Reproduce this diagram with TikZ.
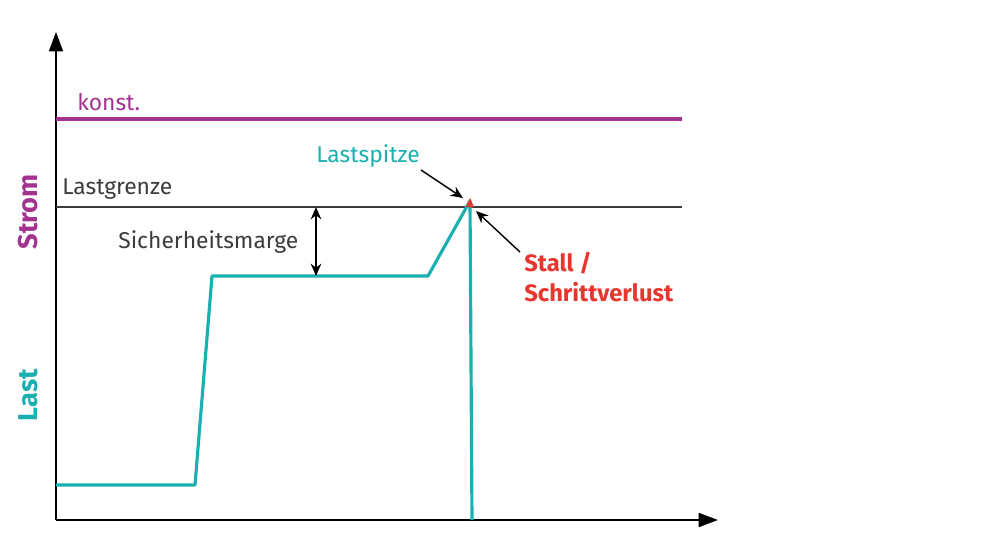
\documentclass[tikz,border=0pt]{standalone}
\usepackage{fontspec}
\setmainfont{Fira Sans}
\usetikzlibrary{arrows.meta}
\definecolor{stromcol}{HTML}{A2338F}
\definecolor{lastcol}{HTML}{1AAFB0}
\definecolor{stallcol}{HTML}{E8352E}
\definecolor{textgray}{HTML}{3C3C3C}
\tikzset{
  lbl/.style={font=\fontsize{13}{15}\selectfont, text=textgray, inner sep=0pt},
  boldlbl/.style={font=\fontsize{13.5}{16}\selectfont\bfseries, inner sep=0pt},
  axislbl/.style={font=\fontsize{15.5}{18}\selectfont\bfseries, inner sep=0pt, rotate=90},
  axis/.style={line width=0.9pt, -{Triangle[length=11pt,width=8pt]}},
  pointer/.style={line width=0.8pt, -{Stealth[length=7pt,width=6pt]}}
}
\begin{document}
\begin{tikzpicture}[x=0.02cm, y=-0.02cm]
      \useasboundingbox (0,0) rectangle (992,549);
      % axes
      \coordinate (origin) at (56,520);
      \coordinate (ytop) at (56,32);
      \coordinate (xend) at (718,520);
      \draw[axis] (origin) -- (ytop);
      \draw[axis] (origin) -- (xend);
      % limits
      \draw[stromcol, line width=2pt] (56,119) -- (682,119);
      \draw[textgray, line width=0.8pt] (56,207) -- (682,207);
      % load curve
      \coordinate (peak) at (470,201);
      \draw[lastcol, line width=1.8pt, line join=round] (56,485) -- (195,485) -- (212,276) -- (428,276) -- (peak) -- (472,520);
      \fill[stallcol] (466,207) -- (470,198) -- (474,207) -- cycle;
      % margin
      \coordinate (mtop) at (316,207);
      \coordinate (mbot) at (316,276);
      \draw[line width=1pt, {Stealth[length=7pt,width=6pt]}-{Stealth[length=7pt,width=6pt]}] (mtop) -- (mbot);
      % labels
      \node[lbl, text=stromcol, anchor=west] (konst) at (77,102) {konst.};
      \node[lbl, anchor=west] (grenze) at (62,189) {Lastgrenze};
      \node[lbl, anchor=west] (marge) at (118,242) {Sicherheitsmarge};
      \node[lbl, text=lastcol, anchor=west] (spitze) at (316,156) {Lastspitze};
      \node[boldlbl, text=stallcol, anchor=west, align=left] (stall) at (524,277) {Stall /\\[1pt]Schrittverlust};
      \node[axislbl, text=stromcol] (strom) at (28,212) {Strom};
      \node[axislbl, text=lastcol] (last) at (28,395) {Last};
      % pointers
      \coordinate (spitzetip) at (463,198);
      \coordinate (stalltip) at (476,211);
      \draw[pointer] (421,170) -- (spitzetip);
      \draw[pointer] (520,252) -- (stalltip);
\end{tikzpicture}
\end{document}
